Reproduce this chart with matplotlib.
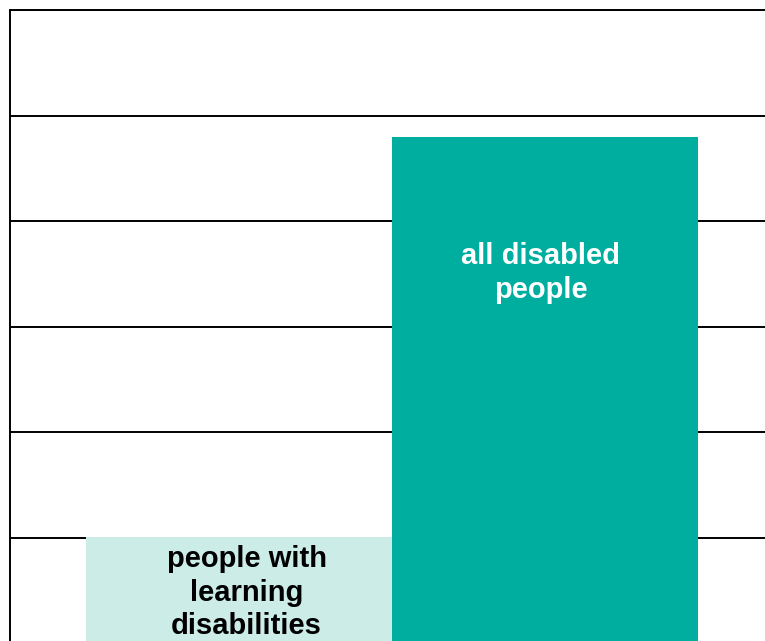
import matplotlib.pyplot as plt

# data
categories = ["people with\nlearning\ndisabilities", "all disabled\npeople"]
values = [10.1, 48.0]
bar_colors = ["#CCECE8", "#00AE9F"]
label_colors = ["black", "white"]
label_y = [4.83, 35.1]
label_dx = [0.025, -0.015]

W, H = 765, 641
fig = plt.figure(figsize=(W / 100, H / 100), dpi=100)

# axes runs past the right and bottom edge of the picture
left_px, right_px, top_px, bottom_px = 10, 774, 10, 643.5
ax = fig.add_axes([left_px / W, (H - bottom_px) / H,
                   (right_px - left_px) / W, (bottom_px - top_px) / H])

x = list(range(len(values)))
ax.bar(x, values, width=1.0, color=bar_colors, zorder=2)

ax.set_xlim(-0.748, 1.748)
ax.set_ylim(0, 60)
ax.set_yticks(range(0, 61, 10))
ax.yaxis.grid(True, color="black", linewidth=1.4, zorder=1)
ax.set_axisbelow(True)
ax.tick_params(left=False, bottom=False, labelleft=False, labelbottom=False)

for s in ["right", "bottom"]:
    ax.spines[s].set_visible(False)
for s in ["left", "top"]:
    ax.spines[s].set_linewidth(1.4)

for i, lab in enumerate(categories):
    ax.text(x[i] + label_dx[i], label_y[i], lab, ha="center", va="center",
            fontsize=21, fontweight="bold", color=label_colors[i],
            family="Liberation Sans", linespacing=1.27, zorder=3)

fig.savefig("out.png", dpi=100)
